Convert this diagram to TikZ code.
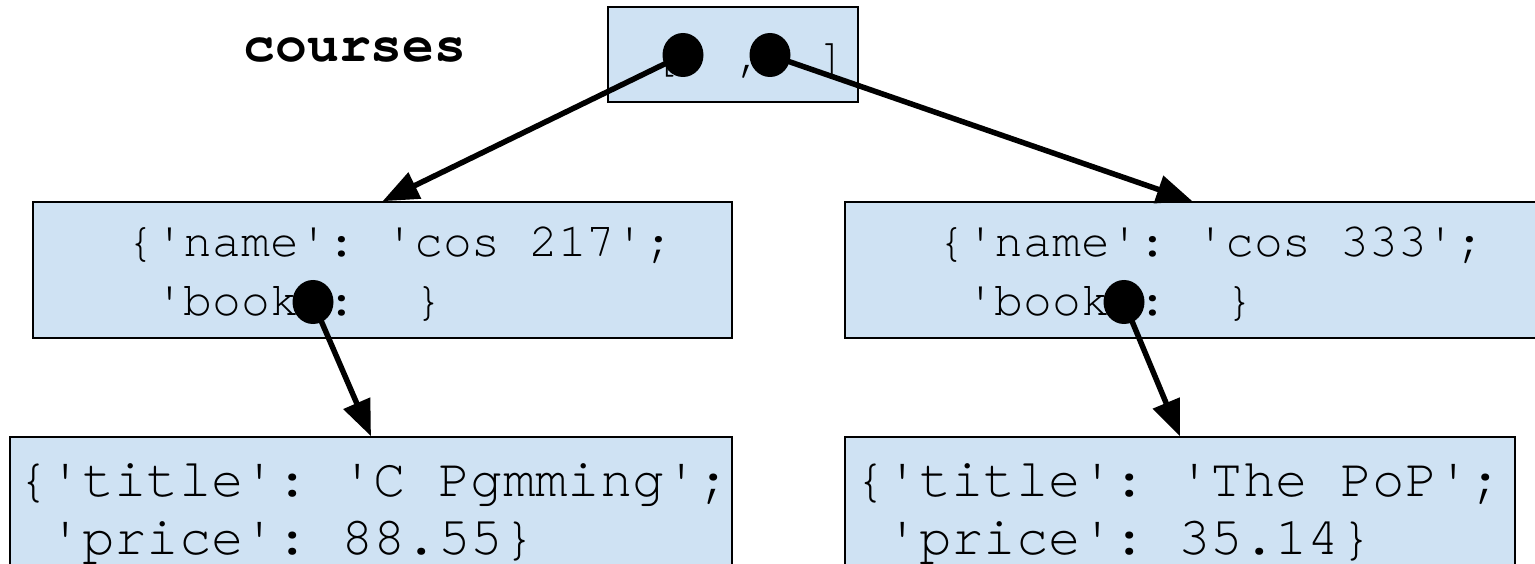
\documentclass[tikz,border=0pt]{standalone}
\usepackage{fontspec}
\setmonofont{texgyrecursor}[Extension=.otf, UprightFont=*-regular, BoldFont=*-bold]
\usetikzlibrary{arrows.meta,shapes.geometric}
\definecolor{boxblue}{HTML}{CFE2F3}

\begin{document}
\begin{tikzpicture}[x=1pt, y=-1pt,
    box/.style = {draw, line width=1.5pt, fill=boxblue, inner sep=0pt},
    dot/.style = {ellipse, fill=black, inner sep=0pt, minimum width=41pt, minimum height=44pt},
    code/.style = {inner sep=0pt, anchor=base west, font=\ttfamily\fontsize{48}{60}\selectfont},
    bigcode/.style = {inner sep=0pt, anchor=base west, font=\ttfamily\fontsize{54}{60}\selectfont},
    ref/.style = {line width=5.5pt, -{Triangle[length=36pt, width=28pt]}}]
    \useasboundingbox (0,0) rectangle (1535,564);
    \clip (0,0) rectangle (1535,564);

    % the list
    \node[anchor=base, inner sep=0pt, font=\ttfamily\bfseries\fontsize{53}{60}\selectfont] (var) at (355,62) {courses};
    \node[box, minimum width=250, minimum height=95] (list) at (733,54.5) {};
    \node[code, font=\ttfamily\fontsize{46}{60}\selectfont] (items) at (653,72) {[~~,~~]};

    % one dict per course
    \node[box, minimum width=699, minimum height=136] (dict1) at (382.5,270) {};
    \node[code] (name1) at (126,257) {\{'name': 'cos 217';};
    \node[code] (books1) at (126,316) {~'book':~~\}};
    \node[box, minimum width=695, minimum height=136] (dict2) at (1192.5,270) {};
    \node[code] (name2) at (937,257) {\{'name': 'cos 333';};
    \node[code] (books2) at (937,316) {~'book':~~\}};

    % the books
    \node[box, minimum width=722, minimum height=163] (book1) at (371,518.5) {};
    \node[bigcode] (title1) at (17,496) {\{'title': 'C Pgmming';};
    \node[bigcode] (price1) at (17,554) {~'price': 88.55\}};
    \node[box, minimum width=670, minimum height=163] (book2) at (1180,518.5) {};
    \node[bigcode] (title2) at (854,496) {\{'title': 'The PoP';};
    \node[bigcode] (price2) at (854,554) {~'price': 35.14\}};

    % references
    \node[dot] (dot1) at (683,55) {};
    \node[dot] (dot2) at (770,55) {};
    \node[dot] (dot3) at (313,302) {};
    \node[dot] (dot4) at (1124,302) {};

    \draw[ref] (dot1.center) -- (dict1.north);
    \draw[ref] (dot2.center) -- (dict2.north);
    \draw[ref] (dot3.center) -- (book1.north);
    \draw[ref] (dot4.center) -- (book2.north);
\end{tikzpicture}
\end{document}
